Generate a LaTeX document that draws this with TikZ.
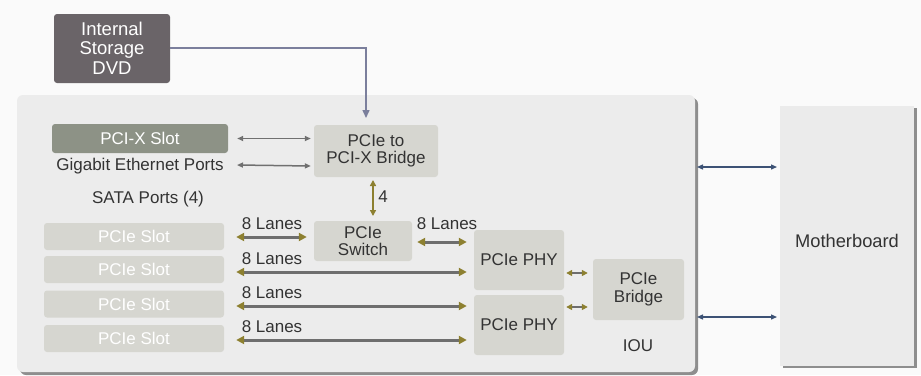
\documentclass[tikz,border=0pt]{standalone}
\usepackage{fontspec}
\setmainfont{Liberation Sans}
\usetikzlibrary{arrows.meta}
\definecolor{bgc}{HTML}{FAFAFA}
\definecolor{ioufill}{HTML}{ECECEC}
\definecolor{shadowc}{HTML}{8E8E8E}
\definecolor{dvdfill}{HTML}{6A6468}
\definecolor{pcixfill}{HTML}{8D9286}
\definecolor{boxfill}{HTML}{D6D6D0}
\definecolor{mbfill}{HTML}{EBEBEB}
\definecolor{txt}{HTML}{333333}
\definecolor{lanegray}{HTML}{6E6E6E}
\definecolor{olivec}{HTML}{8D8030}
\definecolor{slate}{HTML}{7B7F9C}
\definecolor{navyc}{HTML}{3D5275}
\definecolor{thingray}{HTML}{707070}
\begin{document}
\begin{tikzpicture}[x=1pt,y=-1pt,
  font=\fontsize{17}{17.5}\selectfont,
  blk/.style={draw=none,fill=boxfill,rounded corners=3pt,align=center,text=txt,inner sep=0pt},
  slotbox/.style={blk,minimum width=180pt,minimum height=27pt,text=white},
  lbl/.style={text=txt,inner sep=0pt},
  lane/.style={draw=lanegray,line width=3pt,{Triangle[length=8pt,width=8pt,color=olivec]}-{Triangle[length=8pt,width=8pt,color=olivec]}},
  thin/.style={draw=thingray,line width=1.5pt,{Triangle[length=6pt,width=5pt]}-{Triangle[length=6pt,width=5pt]}},
  navy/.style={draw=navyc,line width=1.3pt,{Triangle[length=6pt,width=5pt]}-{Triangle[length=6pt,width=5pt]}}]
\useasboundingbox (0,0) rectangle (921,375);
\fill[bgc] (0,0) rectangle (921,375);
% IOU container
\fill[shadowc,rounded corners=6pt] (20,98) rectangle (698,375);
\fill[ioufill,rounded corners=6pt] (17,95) rectangle (695,372);
% Motherboard
\fill[shadowc] (783,108) rectangle (917,368);
\fill[mbfill] (780,106) rectangle (914,366);
\node[lbl,font=\fontsize{18.3}{18}\selectfont] (mb) at (847,241) {Motherboard};
\coordinate (mbw1) at (777,167);
\coordinate (mbw2) at (777,317);
\coordinate (ioue1) at (697,167);
\coordinate (ioue2) at (697,317);
\draw[navy] (ioue1) -- (mbw1);
\draw[navy] (ioue2) -- (mbw2);
% DVD
\node[blk,fill=dvdfill,text=white,minimum width=116pt,minimum height=69pt,font=\fontsize{18.5}{19}\selectfont] (dvd) at (112,48.5) {Internal\\Storage\\[1pt]DVD};
% bridge
\node[blk,minimum width=124pt,minimum height=52pt,font=\fontsize{17}{17.5}\selectfont] (bridge) at (376,151) {PCIe to\\PCI-X Bridge};
\coordinate (bridgetop) at (366,118);
\draw[slate,line width=1.5pt,-{Triangle[length=8pt,width=7pt]}] (dvd.east |- 0,48) -| (bridgetop);
% PCI-X slot etc
\node[blk,fill=pcixfill,text=white,minimum width=176pt,minimum height=29pt] (pcix) at (140,138.5) {PCI-X Slot};
\node[lbl] (gige) at (140,166) {Gigabit Ethernet Ports};
\node[lbl] (sata) at (148,199) {SATA Ports (4)};
\draw[thin] ([xshift=9pt]pcix.east) -- ([xshift=-3pt]bridge.west |- pcix);
\draw[thin] (237,165) -- ([xshift=-3pt]bridge.west |- gige);
% switch
\node[blk,minimum width=98pt,minimum height=40pt,font=\fontsize{17}{17.5}\selectfont] (switch) at (363,241) {PCIe\\Switch};
\draw[draw=olivec,line width=1.5pt,{Triangle[length=6pt,width=6pt]}-{Triangle[length=6pt,width=6pt]}] (373,180) -- (373,216);
\node[lbl] (four) at (383,197) {4};
% PHYs and bridge
\node[blk,minimum width=90pt,minimum height=60pt] (phy1) at (519,260) {PCIe PHY};
\node[blk,minimum width=90pt,minimum height=60pt] (phy2) at (519,325) {PCIe PHY};
\node[blk,minimum width=91pt,minimum height=61pt,font=\fontsize{17}{17.5}\selectfont] (pbr) at (638.5,289.5) {PCIe\\Bridge};
\node[lbl] (ioulbl) at (638,346) {IOU};
\draw[draw=lanegray,line width=2.2pt,{Triangle[length=6pt,width=6pt,color=olivec]}-{Triangle[length=6pt,width=6pt,color=olivec]}] ([xshift=2pt]phy1.east |- 0,273) -- ([xshift=-5pt]pbr.west |- 0,273);
\draw[draw=lanegray,line width=2.2pt,{Triangle[length=6pt,width=6pt,color=olivec]}-{Triangle[length=6pt,width=6pt,color=olivec]}] ([xshift=2pt]phy2.east |- 0,307) -- ([xshift=-5pt]pbr.west |- 0,307);
% slots
\node[slotbox] (s1) at (134,236.5) {PCIe Slot};
\node[slotbox] (s2) at (134,269.5) {PCIe Slot};
\node[slotbox] (s3) at (134,304) {PCIe Slot};
\node[slotbox] (s4) at (134,338.5) {PCIe Slot};
\draw[lane] ([xshift=12pt]s1.east |- 0,237) -- ([xshift=-7pt]switch.west |- 0,237);
\node[lbl] (l1) at (272,224) {8 Lanes};
\draw[lane] ([xshift=5pt]switch.east |- 0,242) -- ([xshift=-7pt]phy1.west |- 0,242);
\node[lbl] (l2) at (447,224) {8 Lanes};
\draw[lane] ([xshift=12pt]s2.east |- 0,272) -- ([xshift=-7pt]phy1.west |- 0,272);
\node[lbl] (l3) at (272,259) {8 Lanes};
\draw[lane] ([xshift=12pt]s3.east |- 0,306) -- ([xshift=-7pt]phy2.west |- 0,306);
\node[lbl] (l4) at (272,293) {8 Lanes};
\draw[lane] ([xshift=12pt]s4.east |- 0,340) -- ([xshift=-7pt]phy2.west |- 0,340);
\node[lbl] (l5) at (272,327) {8 Lanes};
\end{tikzpicture}
\end{document}
